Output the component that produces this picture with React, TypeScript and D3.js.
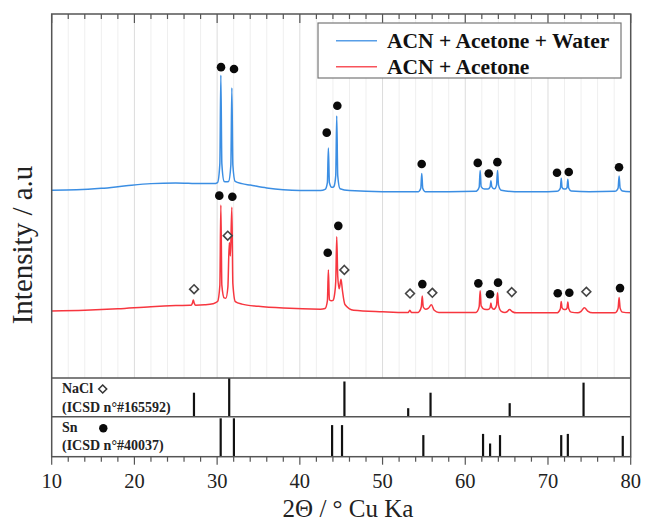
import React from 'react';
import * as d3 from 'd3';

type P = [number, number];

const xTicks = [10, 20, 30, 40, 50, 60, 70, 80];

// ACN + Acetone + Water (2θ, intensity a.u.)
const blueSeries: P[] = [
  [10, 51.6], [13, 51.7], [16, 52.1], [19, 52.8], [22, 53.4], [25, 53.6], [28, 53.4], [29.6, 53.4],
  [30.05, 53.7], [30.33, 58.9], [30.45, 83.2], [30.57, 58.9], [30.85, 54.0],
  [31.1, 53.9],
  [31.38, 54.0], [31.66, 58.5], [31.78, 79.7], [31.9, 58.5], [32.18, 54.0],
  [33, 53.4], [34, 53.0], [36, 52.2], [38, 51.7], [40, 51.5], [42.5, 51.5],
  [43.05, 51.8], [43.33, 53.7], [43.45, 63.2], [43.57, 53.7], [43.85, 52.4],
  [44.0, 52.4],
  [44.12, 52.6], [44.34, 55.6], [44.46, 72.0], [44.58, 55.6], [44.86, 52.0],
  [46, 51.5], [50, 51.2], [54.2, 51.2],
  [54.34, 51.2], [54.62, 52.1], [54.74, 56.2], [54.86, 52.1], [55.14, 51.2],
  [58, 51.2], [61.3, 51.3],
  [61.4, 51.4], [61.68, 52.4], [61.8, 57.0], [61.92, 52.6], [62.3, 51.9],
  [62.75, 51.9], [63.0, 52.5], [63.1, 54.2], [63.2, 52.6], [63.45, 52.0],
  [63.55, 52.0], [63.78, 53.0], [63.9, 57.0], [64.02, 53.0], [64.35, 51.6],
  [66, 51.2], [70, 51.2], [71.1, 51.3],
  [71.25, 51.4], [71.5, 52.2], [71.6, 54.9], [71.7, 52.4], [71.95, 51.9],
  [72.1, 51.9], [72.3, 52.3], [72.4, 54.6], [72.5, 52.2], [72.8, 51.4],
  [75, 51.2], [78.1, 51.3],
  [78.25, 51.4], [78.48, 52.2], [78.6, 55.5], [78.72, 52.2], [79.0, 51.4],
  [80, 51.2],
];

// ACN + Acetone
const redSeries: P[] = [
  [10, 18.4], [14, 18.6], [18, 19.0], [22, 19.6], [25, 19.9], [26.7, 20.0],
  [26.85, 20.0], [27.0, 20.5], [27.12, 21.4], [27.24, 20.5], [27.4, 20.0],
  [28.5, 20.1], [29.5, 20.4],
  [30.05, 21.0], [30.33, 25.5], [30.45, 47.5], [30.57, 25.5], [30.85, 22.0],
  [31.05, 21.9],
  [31.3, 25.0], [31.47, 37.2], [31.6, 33.5],
  [31.78, 46.9], [31.9, 26.0], [32.2, 21.0],
  [33, 20.3], [35, 19.7], [38, 19.2], [42.5, 18.9],
  [43.05, 19.1], [43.33, 21.2], [43.45, 29.7], [43.57, 21.5], [43.85, 21.2],
  [44.0, 21.3],
  [44.2, 23.0], [44.34, 26.5], [44.46, 38.8], [44.58, 28.0], [44.75, 24.5],
  [44.98, 27.1], [45.15, 24.0], [45.45, 20.2],
  [46.5, 18.6], [50, 18.2], [52.8, 18.0],
  [53.1, 18.0], [53.3, 18.6], [53.5, 18.0],
  [54.3, 18.0],
  [54.45, 18.3], [54.68, 19.5], [54.8, 22.5], [54.92, 19.5], [55.2, 18.9],
  [55.55, 19.2], [55.9, 20.1], [56.25, 18.6], [56.8, 18.0],
  [61.3, 18.0],
  [61.45, 18.3], [61.68, 19.6], [61.8, 24.0], [61.92, 19.8], [62.3, 18.9],
  [62.75, 18.8], [63.0, 19.3], [63.1, 20.6], [63.2, 19.4], [63.45, 18.9],
  [63.55, 19.0], [63.78, 20.0], [63.9, 23.4], [64.02, 20.0], [64.35, 18.3],
  [64.8, 18.0],
  [65.05, 18.2], [65.35, 18.8], [65.7, 18.2], [66.2, 17.9],
  [71.1, 17.9],
  [71.25, 18.1], [71.5, 19.0], [71.6, 21.0], [71.7, 19.3], [71.95, 18.8],
  [72.1, 18.8], [72.3, 19.2], [72.4, 20.9], [72.5, 19.1], [72.8, 18.1],
  [73.6, 17.9],
  [74.0, 18.3], [74.4, 19.3], [74.8, 18.4], [75.4, 17.9],
  [78.1, 17.9],
  [78.25, 18.1], [78.48, 19.2], [78.6, 22.1], [78.72, 19.2], [79.0, 18.1],
  [80, 17.9],
];

// Sn (●) marker positions above peaks
const snMarksBlue: P[] = [
  [30.47, 85.4], [32.04, 84.9], [43.25, 67.4], [44.53, 74.8], [54.73, 58.8],
  [61.51, 59.1], [62.84, 56.2], [63.88, 59.3], [71.09, 56.4], [72.51, 56.6], [78.59, 57.9],
];
const snMarksRed: P[] = [
  [30.26, 50.1], [31.84, 49.8], [43.37, 34.4], [44.65, 41.8], [54.81, 25.8],
  [61.58, 26.0], [62.99, 23.0], [63.96, 26.2], [71.18, 23.3], [72.58, 23.4], [78.71, 24.7],
];
// NaCl (◇) marker positions
const naclMarks: P[] = [
  [27.21, 24.4], [31.28, 39.1], [45.38, 29.7], [53.32, 23.2], [56.02, 23.4], [65.62, 23.6], [74.64, 23.7],
];

// Reference patterns (2θ, relative intensity)
const naclSticks: P[] = [
  [27.2, 0.62], [31.46, 1.0], [45.39, 0.91], [53.1, 0.22], [55.8, 0.62], [65.37, 0.35], [74.3, 0.88],
];
const snSticks: P[] = [
  [30.43, 0.96], [32.03, 0.96], [43.9, 0.79], [45.1, 0.79], [54.93, 0.54], [62.15, 0.57],
  [63.0, 0.33], [64.2, 0.54], [71.6, 0.54], [72.4, 0.57], [79.04, 0.52],
];

const seriesNames = ['ACN + Acetone + Water', 'ACN + Acetone'];
const seriesColors = ['#3b8ee3', '#f7363f'];

const FONT = '"Liberation Serif", "Times New Roman", serif';

export default function App() {
  const W = 645, H = 522;
  const L = 51.7, R = 630.7, T = 14;
  const mainB = 378, naclB = 416.7, snB = 456.7;

  const x = d3.scaleLinear().domain([10, 80]).range([L, R]);
  const y = d3.scaleLinear().domain([0, 100]).range([mainB, T]);
  const yNa = d3.scaleLinear().domain([0, 1]).range([naclB, mainB]);
  const ySn = d3.scaleLinear().domain([0, 1]).range([snB, naclB]);
  const line = d3.line<P>().x(d => x(d[0])).y(d => y(d[1])).curve(d3.curveMonotoneX);

  const minor = d3.range(10, 80.001, 2);
  const diamond = (s: number) => `M0,${-s}L${s},0L0,${s}L${-s},0Z`;

  return (
    <svg width={W} height={H} style={{ position: 'absolute', left: 0, top: 0, background: '#fff' }}
      fontFamily={FONT}>
      {/* grid */}
      {minor.map(v => (
        <line key={'g' + v} x1={x(v)} x2={x(v)} y1={T} y2={mainB}
          stroke={v % 10 === 0 ? '#dcdcdc' : '#efefef'} strokeWidth={1} />
      ))}
      {/* top ticks */}
      {minor.map(v => (
        <line key={'tt' + v} x1={x(v)} x2={x(v)} y1={T} y2={T + (v % 10 === 0 ? 9 : 5)}
          stroke="#555" strokeWidth={1.2} />
      ))}
      {/* curves */}
      <path d={line(blueSeries) || ''} fill="none" stroke={seriesColors[0]} strokeWidth={1.5} />
      <path d={line(redSeries) || ''} fill="none" stroke={seriesColors[1]} strokeWidth={1.5} />
      {/* markers */}
      {[...snMarksBlue, ...snMarksRed].map((d, i) => (
        <circle key={'c' + i} cx={x(d[0])} cy={y(d[1])} r={4.3} fill="#0a0a0a" />
      ))}
      {naclMarks.map((d, i) => (
        <path key={'d' + i} d={diamond(4.4)} transform={`translate(${x(d[0])},${y(d[1])})`}
          fill="#fff" stroke="#444" strokeWidth={1.6} />
      ))}
      {/* legend */}
      <rect x={318} y={23} width={303} height={55} fill="#fff" stroke="#777" strokeWidth={1.2} />
      {seriesNames.map((n, i) => (
        <g key={n}>
          <line x1={336} x2={377} y1={40.7 + i * 26} y2={40.7 + i * 26} stroke={seriesColors[i]}
            strokeWidth={1.5} opacity={0.85} />
          <text x={387} y={47.5 + i * 26} fontSize={21.5} fontWeight="bold" fill="#111">{n}</text>
        </g>
      ))}
      {/* reference sticks */}
      {naclSticks.map((d, i) => (
        <line key={'n' + i} x1={x(d[0])} x2={x(d[0])} y1={yNa(0)} y2={yNa(d[1])} stroke="#111" strokeWidth={2.2} />
      ))}
      {snSticks.map((d, i) => (
        <line key={'s' + i} x1={x(d[0])} x2={x(d[0])} y1={ySn(0)} y2={ySn(d[1])} stroke="#111" strokeWidth={2.2} />
      ))}
      {/* panel labels */}
      <text x={62} y={393} fontSize={14} fontWeight="bold" fill="#222">NaCl</text>
      <path d={diamond(4)} transform={`translate(${102.7},${389})`} fill="#fff" stroke="#333" strokeWidth={1.5} />
      <text x={62} y={411.5} fontSize={14} fontWeight="bold" fill="#222">(ICSD n°#165592)</text>
      <text x={62} y={431.5} fontSize={14} fontWeight="bold" fill="#222">Sn</text>
      <circle cx={103.3} cy={428.3} r={4.2} fill="#0a0a0a" />
      <text x={62} y={450} fontSize={14} fontWeight="bold" fill="#222">(ICSD n°#40037)</text>
      {/* frames */}
      <rect x={L} y={T} width={R - L} height={snB - T} fill="none" stroke="#555" strokeWidth={1.5} />
      <line x1={L} x2={R} y1={mainB} y2={mainB} stroke="#555" strokeWidth={1.5} />
      <line x1={L} x2={R} y1={naclB} y2={naclB} stroke="#555" strokeWidth={1.5} />
      {/* bottom ticks */}
      {minor.map(v => (
        <line key={'bt' + v} x1={x(v)} x2={x(v)} y1={snB} y2={snB + (v % 10 === 0 ? 8 : 5)}
          stroke="#555" strokeWidth={1.2} />
      ))}
      {xTicks.map(v => (
        <text key={'xl' + v} x={x(v)} y={488} fontSize={20.5} textAnchor="middle" fill="#222">{v}</text>
      ))}
      <text x={348} y={516.5} fontSize={25} textAnchor="middle" fill="#222">2Θ / ° Cu Ka</text>
      <text transform="translate(32,245) rotate(-90)" fontSize={29} textAnchor="middle" fill="#222">Intensity / a.u</text>
    </svg>
  );
}
